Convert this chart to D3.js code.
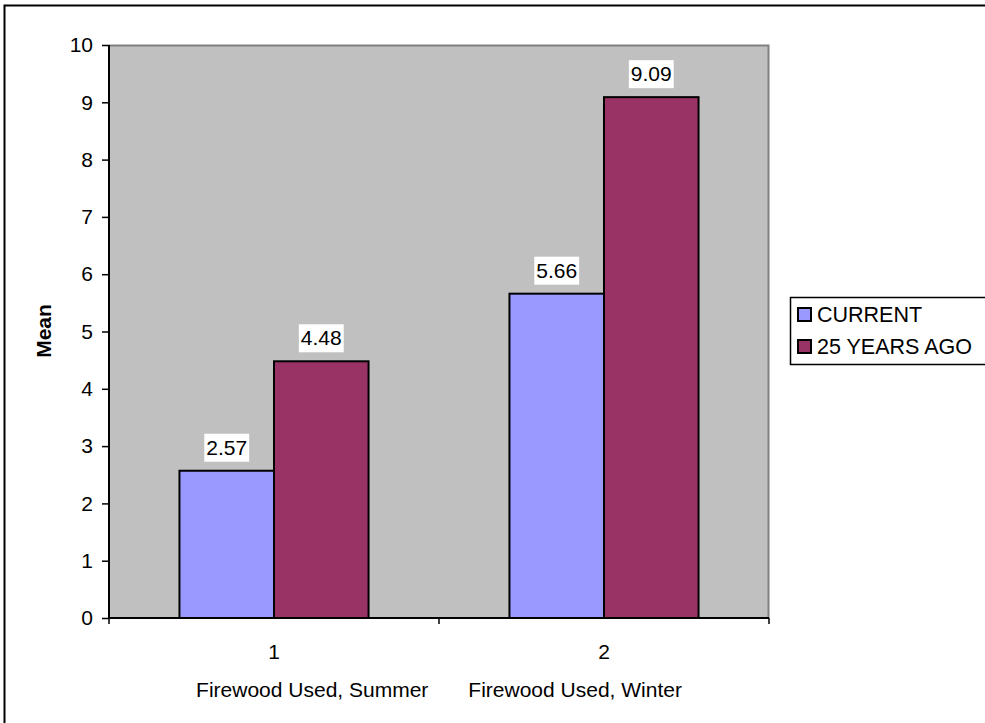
<!DOCTYPE html>
<html>
<head>
<meta charset="utf-8">
<script src="https://cdn.jsdelivr.net/npm/d3@7"></script>
<style>
  html, body { margin: 0; padding: 0; background: #fff; }
  svg { display: block; }
  text { font-family: "Liberation Sans", Arial, sans-serif; fill: #000; }
</style>
</head>
<body>
<svg id="chart" width="985" height="723"></svg>
<script>
// Firewood use: mean values by season, current vs. 25 years ago
const categories = ["1", "2"];
const categoryNames = ["Firewood Used, Summer", "Firewood Used, Winter"];
const seriesNames = ["CURRENT", "25 YEARS AGO"];
const currentValues = [2.57, 5.66];
const pastValues = [4.48, 9.09];
const yTicks = [0, 1, 2, 3, 4, 5, 6, 7, 8, 9, 10];
const seriesColors = ["#9999FF", "#993366"];

const svg = d3.select("#chart");
const plot = { left: 109, top: 45, right: 769, bottom: 618 };
const fontSize = 21;

// outer frame (only top and left edges fall inside the view)
svg.append("rect")
  .attr("x", 4.5).attr("y", 5.5)
  .attr("width", 1000).attr("height", 740)
  .attr("fill", "none").attr("stroke", "#000").attr("stroke-width", 2);

const x = d3.scaleBand()
  .domain(categories)
  .range([plot.left, plot.right])
  .paddingInner(0).paddingOuter(0);

const y = d3.scaleLinear()
  .domain([0, 10])
  .range([plot.bottom, plot.top]);

const groupWidth = x.bandwidth() * 0.573;
const xs = d3.scaleBand()
  .domain(seriesNames)
  .range([0, groupWidth]);

// plot background
svg.append("rect")
  .attr("x", plot.left).attr("y", plot.top)
  .attr("width", plot.right - plot.left).attr("height", plot.bottom - plot.top)
  .attr("fill", "#C0C0C0");
svg.append("path")
  .attr("d", `M${plot.left},${plot.top + 0.5}H${plot.right - 0.5}V${plot.bottom}`)
  .attr("fill", "none").attr("stroke", "#808080").attr("stroke-width", 2);

// bars
const rows = categories.map((c, i) => ({
  cat: c,
  vals: [currentValues[i], pastValues[i]]
}));

const groups = svg.append("g").selectAll("g")
  .data(rows).join("g")
  .attr("transform", d => `translate(${x(d.cat) + (x.bandwidth() - groupWidth) / 2},0)`);

groups.selectAll("rect")
  .data(d => d.vals.map((v, j) => ({ v, s: seriesNames[j], j })))
  .join("rect")
  .attr("x", d => xs(d.s))
  .attr("y", d => y(d.v))
  .attr("width", xs.bandwidth())
  .attr("height", d => y(0) - y(d.v))
  .attr("fill", d => seriesColors[d.j])
  .attr("stroke", "#000").attr("stroke-width", 2);

// value labels on white boxes
const labels = groups.selectAll("g.lab")
  .data(d => d.vals.map((v, j) => ({ v, s: seriesNames[j], j })))
  .join("g").attr("class", "lab")
  .attr("transform", d => `translate(${xs(d.s) + xs.bandwidth() / 2},${y(d.v) - 16})`);
labels.each(function(d) {
  const g = d3.select(this);
  const t = g.append("text")
    .attr("text-anchor", "middle")
    .attr("font-size", fontSize)
    .text(d.v.toFixed(2));
  const bb = t.node().getBBox();
  g.insert("rect", "text")
    .attr("x", bb.x - 2).attr("y", -21)
    .attr("width", bb.width + 4).attr("height", 28)
    .attr("fill", "#fff");
});

// y axis
const yAxis = svg.append("g")
  .attr("transform", `translate(${plot.left},0)`)
  .call(d3.axisLeft(y).tickValues(yTicks).tickSize(7).tickPadding(9).tickFormat(d3.format("d")));
yAxis.select(".domain").attr("stroke", "#000").attr("stroke-width", 2).attr("d", `M0,${plot.top}V${plot.bottom}`);
yAxis.selectAll(".tick line").attr("stroke", "#000").attr("stroke-width", 1.5);
yAxis.selectAll(".tick text").attr("font-size", fontSize).attr("font-family", "Liberation Sans, Arial, sans-serif").attr("fill", "#000");

// x axis with ticks on category boundaries
const xBoundaries = [plot.left, ...categories.map(c => x(c) + x.bandwidth())];
const xAxis = svg.append("g");
xAxis.append("line")
  .attr("x1", plot.left).attr("x2", plot.right)
  .attr("y1", plot.bottom).attr("y2", plot.bottom)
  .attr("stroke", "#000").attr("stroke-width", 2);
xAxis.selectAll("line.tk").data(xBoundaries).join("line").attr("class", "tk")
  .attr("x1", d => d).attr("x2", d => d)
  .attr("y1", plot.bottom).attr("y2", plot.bottom + 6)
  .attr("stroke", "#000").attr("stroke-width", 1.5);
xAxis.selectAll("text.num").data(categories).join("text").attr("class", "num")
  .attr("x", d => x(d) + x.bandwidth() / 2)
  .attr("y", 659)
  .attr("text-anchor", "middle").attr("font-size", fontSize)
  .text(d => d);

// axis title: both category names on one line, centred under the plot
const nameGap = 40;
const names = xAxis.append("g").attr("class", "names");
const nameNodes = categoryNames.map(n => names.append("text")
  .attr("y", 697).attr("font-size", fontSize).text(n));
const widths = nameNodes.map(t => t.node().getComputedTextLength());
const total = d3.sum(widths) + nameGap * (widths.length - 1);
let cursor = (plot.left + plot.right) / 2 - total / 2;
nameNodes.forEach((t, i) => { t.attr("x", cursor); cursor += widths[i] + nameGap; });

// y axis title
svg.append("text")
  .attr("transform", "translate(51,331) rotate(-90)")
  .attr("text-anchor", "middle")
  .attr("font-size", fontSize).attr("font-weight", "bold")
  .text("Mean");

// legend
const legend = svg.append("g");
legend.append("rect")
  .attr("x", 790.5).attr("y", 297.5).attr("width", 220).attr("height", 67)
  .attr("fill", "#fff").attr("stroke", "#000").attr("stroke-width", 1.5);
seriesNames.forEach((name, i) => {
  const yy = 308 + i * 32;
  legend.append("rect")
    .attr("x", 798).attr("y", yy).attr("width", 13).attr("height", 13)
    .attr("fill", seriesColors[i]).attr("stroke", "#000").attr("stroke-width", 2);
  legend.append("text")
    .attr("x", 817).attr("y", yy + 14)
    .attr("font-size", fontSize + 0.5)
    .text(name);
});
</script>
</body>
</html>
